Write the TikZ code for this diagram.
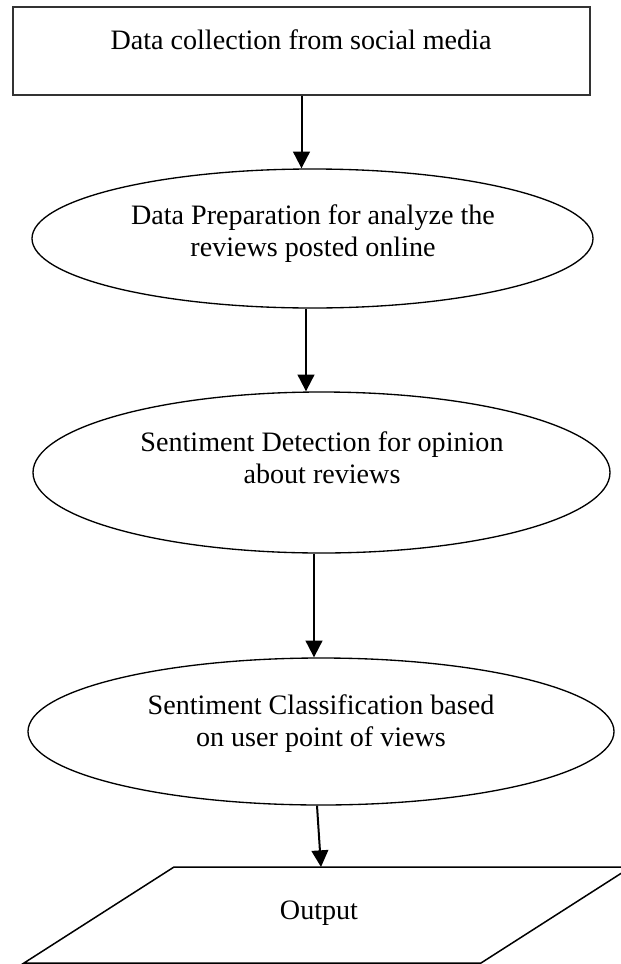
\documentclass[tikz,border=0pt]{standalone}
\usepackage{fontspec}
\setmainfont{Liberation Serif}
\usetikzlibrary{arrows.meta, positioning, shapes.geometric}
\tikzset{
  rbox/.style={draw=black!80, line width=0.06cm, minimum width=17.31cm,
               minimum height=2.64cm, inner sep=0pt},
  ebox/.style={draw, ellipse, line width=0.04cm, inner sep=0pt},
  oline/.style={draw, line width=0.045cm, line join=miter},
  txt/.style={font=\fontsize{24}{27.3}\selectfont, align=center, inner sep=0pt},
  arr/.style={-{Triangle[width=0.5cm,length=0.5cm]}, line width=0.06cm},
}
\begin{document}
\begin{tikzpicture}
  \useasboundingbox (0,0) rectangle (18.63,-28.92);

  %% Collection box
  \node[rbox] (collect) at (9.045,-1.53) {};
  \node[txt] (collecttext) at (9.03,-1.2) {Data collection from social media};

  %% Preparation ellipse
  \node[ebox, minimum width=16.83cm, minimum height=4.17cm] (prep) at (9.375,-7.155) {};
  \node[txt] (preptext) at (9.39,-7.02) {Data Preparation for analyze the\\reviews posted online};

  %% Detection ellipse
  \node[ebox, minimum width=17.31cm, minimum height=4.83cm] (detect) at (9.645,-14.175) {};
  \node[txt] (detecttext) at (9.66,-13.725) {Sentiment Detection for opinion\\about reviews};

  %% Classification ellipse
  \node[ebox, minimum width=17.58cm, minimum height=4.41cm] (classify) at (9.63,-21.945) {};
  \node[txt] (classifytext) at (9.63,-21.72) {Sentiment Classification based\\on user point of views};

  %% Output parallelogram
  \coordinate (outbl) at (0.72,-28.89);
  \coordinate (outtl) at (5.22,-26.01);
  \coordinate (outtr) at (18.93,-26.01);
  \coordinate (outbr) at (14.43,-28.89);
  \draw[oline] (outbl) -- (outtl) -- (outtr) -- (outbr) -- cycle;
  \coordinate (outtop) at (9.63,-26.01);
  \node[txt] (out) at (9.57,-27.39) {Output};

  %% Arrows
  \draw[arr] (collect.south) -- (collect.south |- prep.north);
  \draw[arr] ([xshift=-0.195cm]prep.south) -- ([xshift=-0.195cm]prep.south |- detect.north);
  \draw[arr] ([xshift=-0.225cm]detect.south) -- ([xshift=-0.225cm]detect.south |- classify.north);
  \draw[arr] ([xshift=-0.12cm]classify.south) -- (classify.south |- outtop);

\end{tikzpicture}
\end{document}
